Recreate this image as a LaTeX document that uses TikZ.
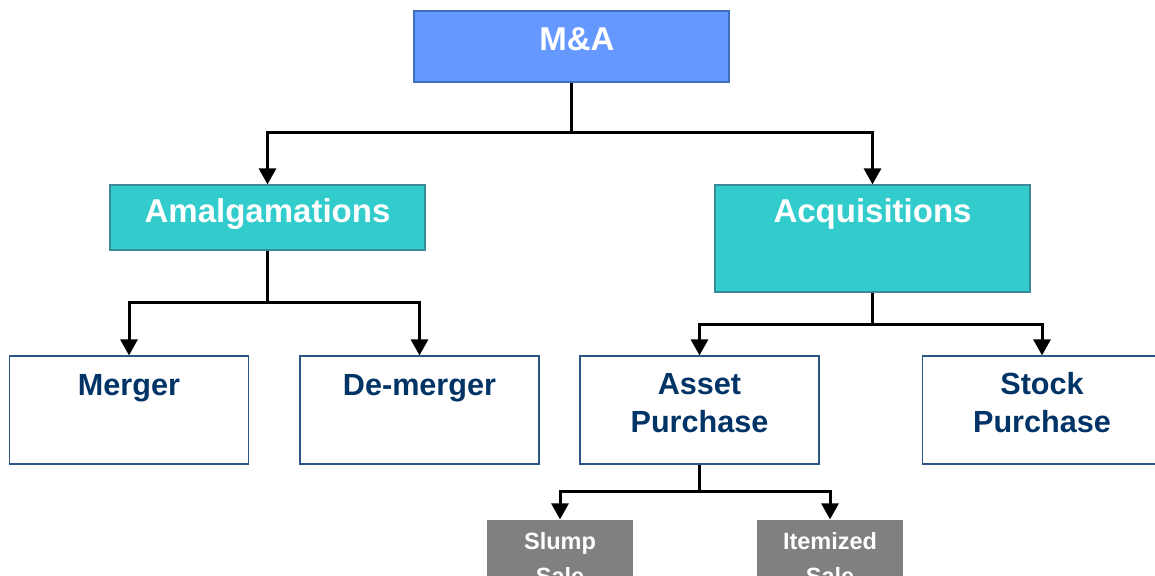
\documentclass[tikz,border=0pt]{standalone}
\usepackage{fontspec}
\setmainfont{Liberation Sans}
\usetikzlibrary{arrows.meta}
\definecolor{mablue}{HTML}{6699FF}
\definecolor{maborder}{HTML}{3F6FBF}
\definecolor{teal1}{HTML}{33CCCC}
\definecolor{tealborder}{HTML}{3A8A9A}
\definecolor{navy}{HTML}{003366}
\definecolor{boxborder}{HTML}{2A5585}
\definecolor{grayfill}{HTML}{808080}
\tikzset{
  box/.style={rectangle, inner sep=0pt, line width=1.2pt},
  topbox/.style={box, fill=mablue, draw=maborder, minimum width=315, minimum height=71},
  tealbox/.style={box, fill=teal1, draw=tealborder, minimum width=315},
  whitebox/.style={box, fill=white, draw=boxborder, minimum width=239, minimum height=108},
  graybox/.style={box, fill=grayfill, minimum width=146, minimum height=70},
  bigtxt/.style={inner sep=0pt, anchor=base, text=white, font=\fontsize{33}{38}\selectfont\bfseries},
  midtxt/.style={inner sep=0pt, anchor=base, align=center, text=navy, font=\fontsize{30.6}{38}\selectfont\bfseries},
  smalltxt/.style={inner sep=0pt, anchor=base, align=center, text=white, font=\fontsize{23.5}{34.5}\selectfont\bfseries},
  conn/.style={line width=3pt, -{Triangle[width=17pt,length=16pt]}}
}
\begin{document}
\begin{tikzpicture}[x=1pt,y=-1pt]
\useasboundingbox (0,0) rectangle (1155,575);
\clip (0,0) rectangle (1155,575);
% boxes
\node[topbox] (ma) at (571.5,46.5) {};
\node[tealbox, minimum height=65] (amal) at (267.5,217.5) {};
\node[tealbox, minimum height=107] (acq) at (872.5,238.5) {};
\node[whitebox] (merger) at (129,410) {};
\node[whitebox] (demerger) at (419.5,410) {};
\node[whitebox] (asset) at (699.5,410) {};
\node[whitebox] (stock) at (1042,410) {};
\node[graybox] (slump) at (560,555) {};
\node[graybox] (item) at (830,555) {};
% texts
\node[bigtxt] (tma) at (577,51) {M\&A};
\node[bigtxt] (tamal) at (267.5,222) {Amalgamations};
\node[bigtxt] (tacq) at (872.5,222) {Acquisitions};
\node[midtxt] (tmerger) at (129,395) {Merger};
\node[midtxt] (tdemerger) at (419.5,395) {De-merger};
\node[midtxt] (tasset) at (699.5,432) {Asset\\Purchase};
\node[midtxt] (tstock) at (1042,432) {Stock\\Purchase};
\node[smalltxt] (tslump) at (560,584) {Slump\\Sale};
\node[smalltxt] (titem) at (830,584) {Itemized\\Sale};
% connectors
\draw[conn] (ma.south) -- ++(0,50) -| (amal.north);
\draw[conn] (ma.south) -- ++(0,50) -| (acq.north);
\draw[conn] (amal.south) -- ++(0,52) -| (merger.north);
\draw[conn] (amal.south) -- ++(0,52) -| (demerger.north);
\draw[conn] (acq.south) -- ++(0,32) -| (asset.north);
\draw[conn] (acq.south) -- ++(0,32) -| (stock.north);
\draw[conn] (asset.south) -- ++(0,27) -| (slump.north);
\draw[conn] (asset.south) -- ++(0,27) -| (item.north);
\end{tikzpicture}
\end{document}
